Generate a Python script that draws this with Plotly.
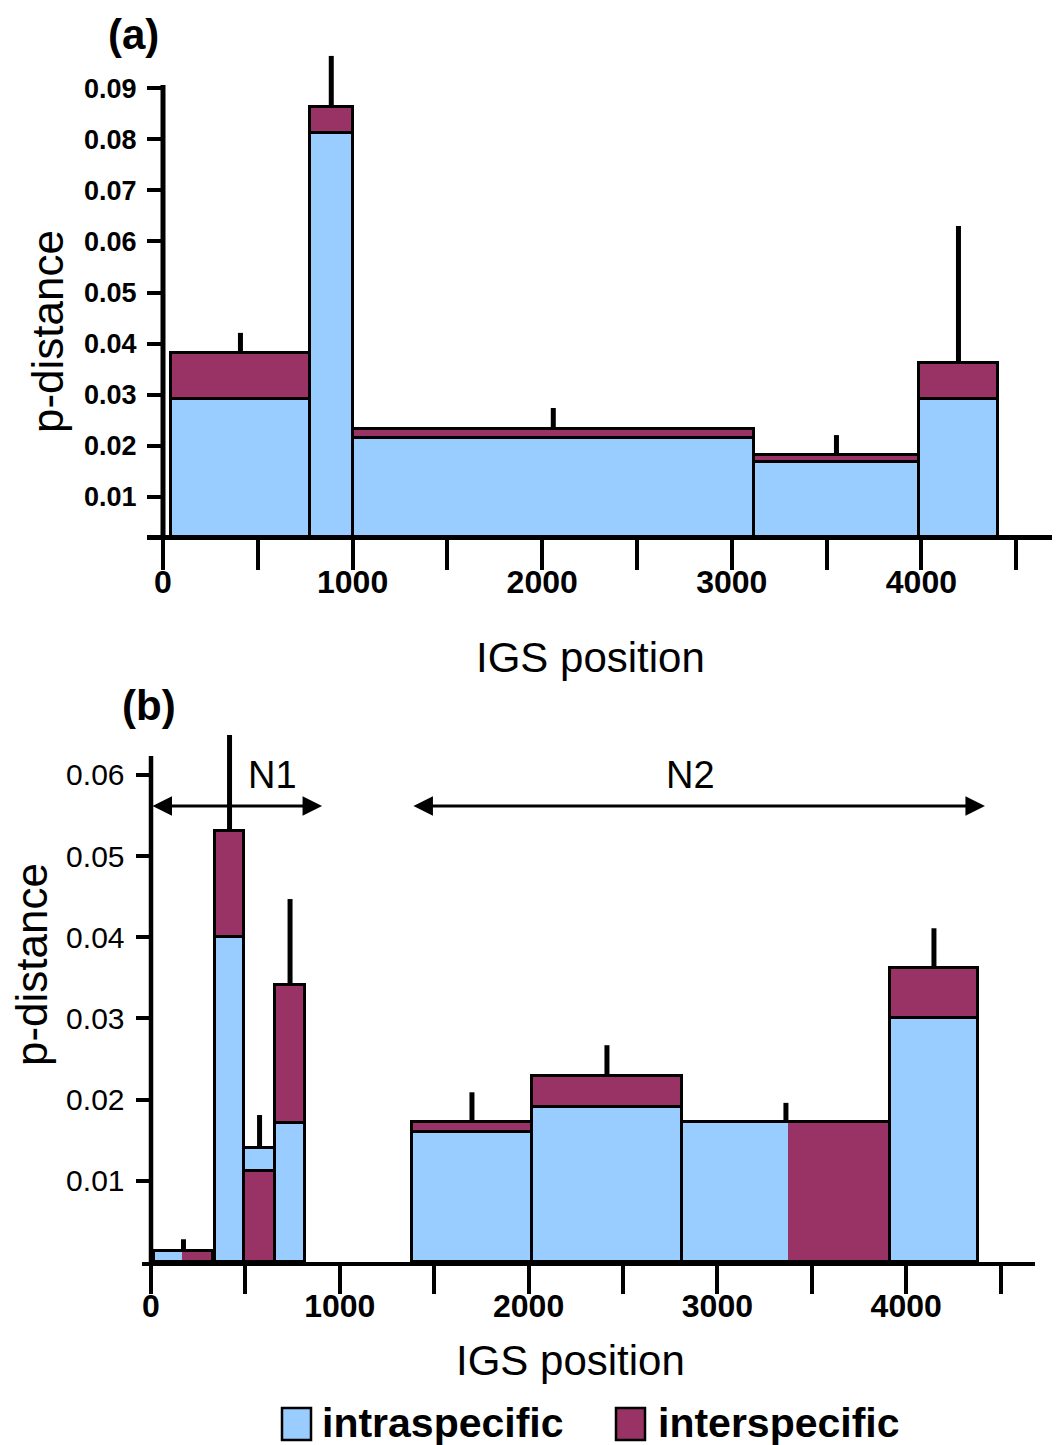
import plotly.graph_objects as go

# ---------------- data ----------------
# Panel (a)
a_start = [42, 775, 1000, 3117, 3987]
a_end = [775, 1000, 3117, 3987, 4404]
a_intra = [0.0292, 0.0812, 0.0215, 0.0168, 0.0292]
a_inter = [0.0381, 0.0863, 0.0233, 0.0182, 0.0362]
a_err_top = [0.0421, 0.0963, 0.0274, 0.0221, 0.0630]
a_split = [None, None, None, None, None]

# Panel (b)
b_start = [16, 339, 493, 657, 1382, 2018, 2812, 3914]
b_end = [328, 493, 657, 816, 2018, 2812, 3914, 4380]
b_intra = [0.00135, 0.0400, 0.0140, 0.0171, 0.0160, 0.0191, 0.0173, 0.0300]
b_inter = [0.00135, 0.0531, 0.0112, 0.0341, 0.0173, 0.0229, 0.0173, 0.0362]
b_err_top = [0.0028, 0.0649, 0.0181, 0.0447, 0.0209, 0.0267, 0.0196, 0.0411]
b_split = [164, None, None, None, None, None, 3374, None]

x_tickvals = [0, 500, 1000, 1500, 2000, 2500, 3000, 3500, 4000, 4500]
x_ticktext = ["0", "", "1000", "", "2000", "", "3000", "", "4000", ""]
a_ytickvals = [0.01, 0.02, 0.03, 0.04, 0.05, 0.06, 0.07, 0.08, 0.09]
b_ytickvals = [0.01, 0.02, 0.03, 0.04, 0.05, 0.06]

# regions N1 / N2 (panel b)
regions = ["N1", "N2"]
region_start = [0, 1382]
region_end = [906, 4417]
region_label_x = [643, 2855]

legend_labels = ["intraspecific", "interspecific"]

BLUE = "#99CCFF"
MAROON = "#993366"
FONT = "Liberation Sans, Arial, Helvetica, sans-serif"

OFF = 8          # page body margin
W, H = 1052, 1437


def px(x):
    return (x - OFF) / W


def py(y):
    return 1 - (y - OFF) / H


fig = go.Figure()


def add_panel(start, end, intra, inter, err_top, split, xa, ya):
    blue, maroon, lower = [], [], []
    for s, e, i, j, m in zip(start, end, intra, inter, split):
        if m is not None:
            blue.append((s, m, 0, i))
            maroon.append((m, e, 0, j))
        elif i <= j:
            blue.append((s, e, 0, i))
            maroon.append((s, e, i, j))
            lower.append((s, e, i))
        else:
            maroon.append((s, e, 0, j))
            blue.append((s, e, j, i))
            lower.append((s, e, j))

    for pieces, col in ((blue, BLUE), (maroon, MAROON)):
        fig.add_trace(go.Bar(
            x=[(p[0] + p[1]) / 2 for p in pieces],
            width=[p[1] - p[0] for p in pieces],
            base=[p[2] for p in pieces],
            y=[p[3] - p[2] for p in pieces],
            marker=dict(color=col, line=dict(width=0)),
            xaxis=xa, yaxis=ya, showlegend=False, hoverinfo="skip"))

    # dividers between lower and upper parts
    fig.add_trace(go.Bar(
        x=[(p[0] + p[1]) / 2 for p in lower],
        width=[p[1] - p[0] for p in lower],
        base=[0] * len(lower),
        y=[p[2] for p in lower],
        marker=dict(color="rgba(0,0,0,0)", line=dict(width=3, color="black")),
        xaxis=xa, yaxis=ya, showlegend=False, hoverinfo="skip"))

    tops = [max(i, j) for i, j in zip(intra, inter)]
    fig.add_trace(go.Bar(
        x=[(s + e) / 2 for s, e in zip(start, end)],
        width=[e - s for s, e in zip(start, end)],
        base=[0] * len(start),
        y=tops,
        marker=dict(color="rgba(0,0,0,0)", line=dict(width=3, color="black")),
        error_y=dict(type="data", symmetric=False,
                     array=[t2 - t for t2, t in zip(err_top, tops)],
                     arrayminus=[0] * len(tops),
                     color="black", thickness=5, width=0),
        xaxis=xa, yaxis=ya, showlegend=False, hoverinfo="skip"))


add_panel(a_start, a_end, a_intra, a_inter, a_err_top, a_split, "x", "y")
add_panel(b_start, b_end, b_intra, b_inter, b_err_top, b_split, "x2", "y2")

# ---------- axis geometry (panel a), in reference pixels ----------
a_x0px, a_xscale = 163, 0.1896          # px of x=0, px per unit
a_y0px, a_yscale = 548, 5110            # px of y=0, px per unit
a_bottom_px, a_top_px = 535, 50
a_left_px, a_right_px = 147, 1060

# ---------- axis geometry (panel b) ----------
b_x0px, b_xscale = 151, 0.1888
b_y0px, b_yscale = 1262, 8120
b_bottom_px, b_top_px = 1262, 728
b_left_px, b_right_px = 142, 1035


def bold(s):
    return dict(family=FONT, size=s, color="black", weight="bold")


fig.update_layout(
    width=W, height=H, autosize=False,
    margin=dict(l=0, r=0, t=0, b=0),
    paper_bgcolor="white", plot_bgcolor="rgba(0,0,0,0)",
    barmode="overlay", bargap=0, showlegend=False,
    xaxis=dict(
        domain=[px(a_left_px), px(a_right_px)],
        range=[(a_left_px - a_x0px) / a_xscale, (a_right_px - a_x0px) / a_xscale],
        anchor="y", showgrid=False, zeroline=False,
        showline=True, linecolor="black", linewidth=5,
        tickmode="array", tickvals=x_tickvals, ticktext=x_ticktext,
        ticks="outside", ticklen=30, tickwidth=4, tickcolor="black",
        tickfont=bold(32), ticklabelstandoff=-15, automargin=False),
    yaxis=dict(
        domain=[py(a_bottom_px), py(a_top_px)],
        range=[(a_y0px - a_bottom_px) / a_yscale, (a_y0px - a_top_px) / a_yscale],
        anchor="free", position=px(a_x0px), showgrid=False, zeroline=False,
        showline=False,
        tickmode="array", tickvals=a_ytickvals,
        ticktext=[f"{v:.2f}" for v in a_ytickvals],
        ticks="outside", ticklen=16, tickwidth=4, tickcolor="black",
        tickfont=bold(27), ticklabelstandoff=5, automargin=False),
    xaxis2=dict(
        domain=[px(b_left_px), px(b_right_px)],
        range=[(b_left_px - b_x0px) / b_xscale, (b_right_px - b_x0px) / b_xscale],
        anchor="y2", showgrid=False, zeroline=False,
        showline=True, linecolor="black", linewidth=4,
        tickmode="array", tickvals=x_tickvals, ticktext=x_ticktext,
        ticks="outside", ticklen=28, tickwidth=4, tickcolor="black",
        tickfont=bold(32), ticklabelstandoff=-15, automargin=False),
    yaxis2=dict(
        domain=[py(b_bottom_px), py(b_top_px)],
        range=[(b_y0px - b_bottom_px) / b_yscale, (b_y0px - b_top_px) / b_yscale],
        anchor="free", position=px(b_x0px - 0.5), showgrid=False, zeroline=False,
        showline=False,
        tickmode="array", tickvals=b_ytickvals,
        ticktext=[f"{v:.2f}" for v in b_ytickvals],
        ticks="outside", ticklen=15, tickwidth=3.5, tickcolor="black",
        tickfont=dict(family=FONT, size=30, color="black"),
        ticklabelstandoff=5, automargin=False),
)

shapes = []
# y axis lines
shapes.append(dict(type="line", xref="x", yref="y", x0=0, x1=0,
                   y0=(a_y0px - a_bottom_px) / a_yscale, y1=(a_y0px - 85) / a_yscale,
                   line=dict(color="black", width=5)))
shapes.append(dict(type="line", xref="x2", yref="y2", x0=0, x1=0,
                   y0=0, y1=(b_y0px - 756) / b_yscale,
                   line=dict(color="black", width=4.5)))

# legend boxes
legend_box_x = [282, 616]
legend_text_x = [320, 656]
legend_colors = [BLUE, MAROON]
annotations = []
for bx, tx, col, lab in zip(legend_box_x, legend_text_x, legend_colors, legend_labels):
    shapes.append(dict(type="rect", xref="paper", yref="paper",
                       x0=px(bx), x1=px(bx + 29), y0=py(1440), y1=py(1408),
                       fillcolor=col, line=dict(color="black", width=2.5)))
    annotations.append(dict(xref="paper", yref="paper", x=px(tx), y=py(1423),
                            xanchor="left", yanchor="middle", showarrow=False,
                            text=lab, font=bold(41)))

# panel titles and axis titles
annotations += [
    dict(xref="paper", yref="paper", x=px(133), y=py(35), text="(a)", showarrow=False,
         xanchor="center", yanchor="middle", font=bold(42)),
    dict(xref="paper", yref="paper", x=px(149), y=py(705), text="(b)", showarrow=False,
         xanchor="center", yanchor="middle", font=bold(42)),
    dict(xref="paper", yref="paper", x=px(590), y=py(657), text="IGS position",
         showarrow=False, xanchor="center", yanchor="middle",
         font=dict(family=FONT, size=42, color="black")),
    dict(xref="paper", yref="paper", x=px(570), y=py(1360), text="IGS position",
         showarrow=False, xanchor="center", yanchor="middle",
         font=dict(family=FONT, size=42, color="black")),
    dict(xref="paper", yref="paper", x=px(48), y=py(332), text="p-distance",
         showarrow=False, textangle=-90, xanchor="center", yanchor="middle",
         font=dict(family=FONT, size=44, color="black")),
    dict(xref="paper", yref="paper", x=px(31), y=py(965), text="p-distance",
         showarrow=False, textangle=-90, xanchor="center", yanchor="middle",
         font=dict(family=FONT, size=44, color="black")),
]

# N1 / N2 double arrows with labels
arrow_y = (b_y0px - 806) / b_yscale
label_y = (b_y0px - 775) / b_yscale
for s, e in zip(region_start, region_end):
    annotations.append(dict(xref="x2", yref="y2", axref="x2", ayref="y2",
                            x=e, y=arrow_y, ax=s, ay=arrow_y, text="",
                            showarrow=True, arrowhead=2, startarrowhead=2,
                            arrowside="end+start", arrowsize=1.3, startarrowsize=1.3,
                            arrowwidth=3, arrowcolor="black"))
for name, lx in zip(regions, region_label_x):
    annotations.append(dict(xref="x2", yref="y2", x=lx, y=label_y, text=name,
                            showarrow=False, xanchor="center", yanchor="middle",
                            font=dict(family=FONT, size=38, color="black")))

fig.update_layout(shapes=shapes, annotations=annotations)

fig.write_html("out.html")
